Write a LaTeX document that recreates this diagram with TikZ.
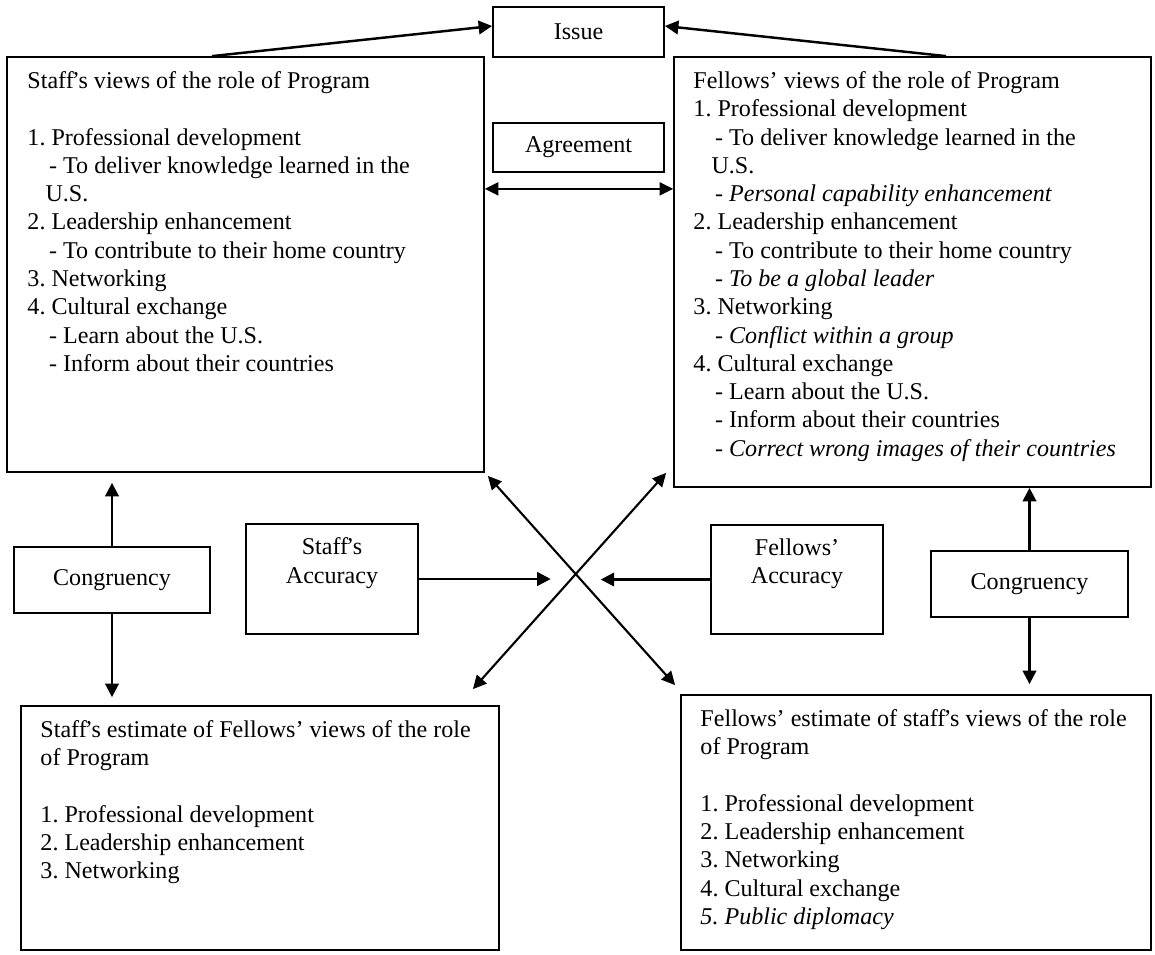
\documentclass[tikz,border=0pt]{standalone}
\usepackage{fontspec}
\setmainfont{Liberation Serif}
\usetikzlibrary{arrows.meta, positioning, calc}
\frenchspacing

\begin{document}
\begin{tikzpicture}[
    font=\fontsize{13.7pt}{16.1pt}\selectfont,
    % Styles
    box/.style={rectangle, draw, line width=1pt, inner sep=0pt, align=center},
    panel/.style={rectangle, draw, line width=1pt, inner sep=0pt},
    textblock/.style={anchor=north west, inner sep=0pt, align=left},
    arrow/.style={-{Triangle[length=0.27cm, width=0.27cm]}, line width=1.4pt},
    dblarrow/.style={{Triangle[length=0.27cm, width=0.26cm]}-{Triangle[length=0.27cm, width=0.26cm]}, line width=1.2pt},
]
\useasboundingbox (0,0) rectangle (23.1,-19.08);

% === TOP ROW ===
\node[box, minimum width=3.42cm, minimum height=1.0cm] (issue) at (11.57,-0.64) {Issue};
\node[box, minimum width=3.42cm, minimum height=0.98cm] (agree) at (11.57,-2.95) {Agreement};

\node[panel, minimum width=9.54cm, minimum height=8.30cm] (staffview) at (4.91,-5.29) {};
\node[panel, minimum width=9.54cm, minimum height=8.60cm] (fellowview) at (18.25,-5.44) {};

\node[textblock] (staffviewtext) at ($(staffview.north west)+(0.42,-0.30)$) {%
Staff\kern-.08em’s views of the role of Program\\[16.1pt]
1. Professional development\\
\hspace*{0.9em}- To deliver knowledge learned in the\\
\hspace*{0.75em}U.S.\\
2. Leadership enhancement\\
\hspace*{0.9em}- To contribute to their home country\\
3. Networking\\
4. Cultural exchange\\
\hspace*{0.9em}- Learn about the U.S.\\
\hspace*{0.9em}- Inform about their countries};

\node[textblock] (fellowviewtext) at ($(fellowview.north west)+(0.40,-0.30)$) {%
Fellows’ views of the role of Program\\
1. Professional development\\
\hspace*{0.9em}- To deliver knowledge learned in the\\
\hspace*{0.75em}U.S.\\
\hspace*{0.9em}- \textit{Personal capability enhancement}\\
2. Leadership enhancement\\
\hspace*{0.9em}- To contribute to their home country\\
\hspace*{0.9em}- \textit{To be a global leader}\\
3. Networking\\
\hspace*{0.9em}- \textit{Conflict within a group}\\
4. Cultural exchange\\
\hspace*{0.9em}- Learn about the U.S.\\
\hspace*{0.9em}- Inform about their countries\\
\hspace*{0.9em}- \textit{Correct wrong images of their countries}};

% Top arrows
\draw[arrow] ($(staffview.north west)!0.43!(staffview.north east)$) -- ([yshift=0.12cm]issue.west);
\draw[arrow] ($(fellowview.north west)!0.57!(fellowview.north east)$) -- ([yshift=0.12cm]issue.east);
\draw[dblarrow] ($(staffview.east |- agree.south)+(0,-0.32)$) -- ($(fellowview.west |- agree.south)+(0,-0.32)$);

% === MIDDLE ROW ===
\node[box, minimum width=3.92cm, minimum height=1.32cm] (congL) at (2.24,-11.60) {Congruency};
\node[box, minimum width=3.44cm, minimum height=2.20cm] (staffacc) at (6.64,-11.58) {Staff\kern-.08em’s\\Accuracy\\\strut};
\node[box, minimum width=3.44cm, minimum height=2.18cm] (fellowacc) at (15.94,-11.59) {Fellows’\\Accuracy\\\strut};
\node[box, minimum width=3.94cm, minimum height=1.32cm] (congR) at (20.59,-11.68) {Congruency};

% === BOTTOM ROW ===
\node[panel, minimum width=9.56cm, minimum height=4.88cm] (staffest) at (5.20,-16.56) {};
\node[panel, minimum width=9.40cm, minimum height=5.10cm] (fellowest) at (18.32,-16.45) {};

\node[textblock] (staffesttext) at ($(staffest.north west)+(0.40,-0.30)$) {%
Staff\kern-.08em’s estimate of Fellows’ views of the role\\
of Program\\[16.1pt]
1. Professional development\\
2. Leadership enhancement\\
3. Networking};

\node[textblock] (fellowesttext) at ($(fellowest.north west)+(0.40,-0.30)$) {%
Fellows’ estimate of staff\kern-.08em’s views of the role\\
of Program\\[16.1pt]
1. Professional development\\
2. Leadership enhancement\\
3. Networking\\
4. Cultural exchange\\
\textit{5. Public diplomacy}};

% Congruency arrows
\draw[arrow] (congL.north) -- ($(congL.north |- staffview.south)+(0,-0.2)$);
\draw[arrow] (congL.south) -- ($(congL.south |- staffest.north)+(0,0.16)$);
\draw[arrow] (congR.north) -- (congR.north |- fellowview.south);
\draw[arrow] (congR.south) -- ($(congR.south |- fellowest.north)+(0,0.2)$);

% Cross arrows
\coordinate (nwEnd) at ($(staffview.south east)+(0.06,-0.06)$);
\coordinate (seEnd) at ($(fellowest.north west)+(-0.10,0.18)$);
\coordinate (neEnd) at ($(fellowview.south west)+(-0.14,0.30)$);
\coordinate (swEnd) at ($(staffest.north east)+(-0.54,0.32)$);
\draw[dblarrow] (nwEnd) -- (seEnd);
\draw[dblarrow] (neEnd) -- (swEnd);
\coordinate (cross) at (intersection of nwEnd--seEnd and neEnd--swEnd);

% Accuracy arrows
\draw[arrow] (staffacc.east) -- ($(staffacc.east -| cross)+(-0.5,0)$);
\draw[arrow] (fellowacc.west) -- ($(fellowacc.west -| cross)+(0.5,0)$);

\end{tikzpicture}
\end{document}
